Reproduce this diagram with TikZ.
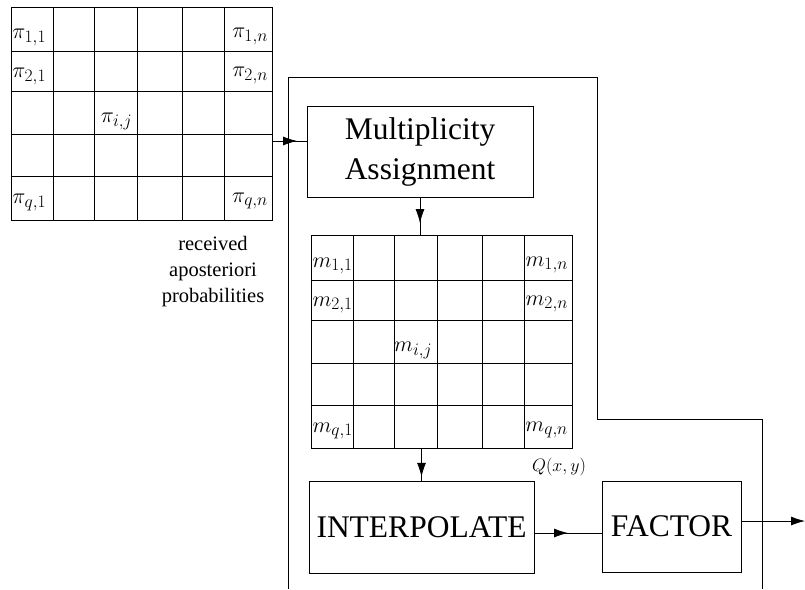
\RequirePackage{fix-cm}
\documentclass[tikz,border=0pt]{standalone}
\usepackage{fontspec}
\setmainfont{Liberation Serif}
\DeclareMathSizes{22}{22}{17.5}{13}
\usetikzlibrary{arrows.meta, decorations.markings}

% rules and corner entries of a q x n table drawn inside frame node #1
\newcommand{\cellgrid}[2]{%
  \foreach \cx in {43,84,127,172,214}
    \draw ([xshift=\cx pt]#1.north west) -- ([xshift=\cx pt]#1.south west);
  \foreach \cy in {45,85,128,170}
    \draw ([yshift=-\cy pt]#1.north west) -- ([yshift=-\cy pt]#1.north east);
  \node[entry, anchor=base west] (#1-11) at ([shift={(1.5pt,-32pt)}]#1.north west) {$#2_{1,1}$};
  \node[entry, anchor=base east] (#1-1n) at ([shift={(-4pt,-31pt)}]#1.north east) {$#2_{1,n}$};
  \node[entry, anchor=base west] (#1-21) at ([shift={(1.5pt,-71pt)}]#1.north west) {$#2_{2,1}$};
  \node[entry, anchor=base east] (#1-2n) at ([shift={(-4pt,-70pt)}]#1.north east) {$#2_{2,n}$};
  \node[entry, anchor=base east] (#1-ij) at ([shift={(122pt,-116pt)}]#1.north west) {$#2_{i,j}$};
  \node[entry, anchor=base west] (#1-q1) at ([shift={(1.5pt,-197pt)}]#1.north west) {$#2_{q,1}$};
  \node[entry, anchor=base east] (#1-qn) at ([shift={(-4pt,-196pt)}]#1.north east) {$#2_{q,n}$};
}

\begin{document}
\begin{tikzpicture}[
    x=1pt, y=-1pt, line width=0.8pt,
    >={Latex[length=14pt,width=9pt]},
    block/.style={draw, inner sep=0pt, align=center, font=\fontsize{31.5}{40}\selectfont},
    cellframe/.style={draw, inner sep=0pt, minimum width=261pt, minimum height=213pt},
    entry/.style={inner sep=0pt, font=\fontsize{22}{26}\selectfont},
    midarrow/.style={decoration={markings,
        mark=at position #1 with {\arrow{Latex[length=14pt,width=9pt]}}},
      postaction={decorate}},
  ]
  \useasboundingbox (0,0) rectangle (805,589);
  \node[cellframe] (pigrid) at (141.5,113.5) {};
  \cellgrid{pigrid}{\pi}
  \node[font=\fontsize{20.5}{26}\selectfont, align=center, anchor=north, inner sep=0pt]
    (caption) at (213,236) {received\\aposteriori\\probabilities};
  \node[block, minimum width=226pt, minimum height=91pt] (assign) at (420,151.5) {Multiplicity\\Assignment};
  \node[cellframe] (mgrid) at (441.5,342) {};
  \cellgrid{mgrid}{m}
  \node[block, minimum width=225pt, minimum height=92pt] (interp) at (421.5,527) {INTERPOLATE};
  \node[block, minimum width=139pt, minimum height=91pt] (factor) at (671.5,526.5) {FACTOR};
  \node[inner sep=0pt, font=\fontsize{18}{22}\selectfont] (qxy) at (559,467) {$Q(x,y)$};
  % decoder boundary
  \draw (288,589) |- (597,77) |- (762,419) -- (762,589);
  \coordinate (pin) at ([yshift=-27.5pt]pigrid.east);
  \coordinate (qin) at ([yshift=-6pt]interp.east);
  \coordinate (out) at (805,521);
  \draw[midarrow=0.72] (pin) -- (pin -| assign.west);
  \draw[midarrow=0.68] (assign.south) -- (assign.south |- mgrid.north);
  \draw[midarrow=0.88] (interp.north |- mgrid.south) -- (interp.north);
  \draw[midarrow=0.5] (qin) -- (qin -| factor.west);
  \draw[->] (factor.east |- out) -- (out);
\end{tikzpicture}
\end{document}
